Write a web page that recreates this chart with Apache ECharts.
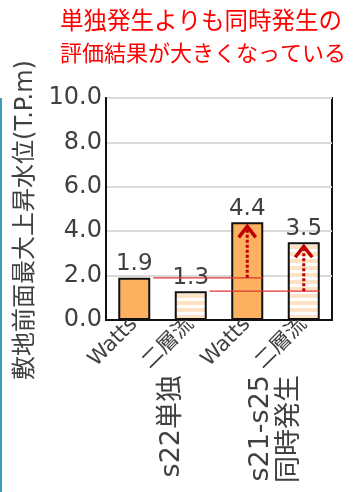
<!DOCTYPE html>
<html>
<head>
<meta charset="utf-8">
<script src="https://cdn.jsdelivr.net/npm/echarts@6/dist/echarts.min.js"></script>
<style>
  html, body { margin: 0; padding: 0; background: #ffffff; }
  #chart { width: 354px; height: 492px; }
</style>
</head>
<body>
<div id="chart"></div>
<script>
// Bars: simulation method per case
const categories = ['Watts', '二層流', 'Watts', '二層流'];
// Case groups shown under the method labels
const groupLabels = ['s22単独', 's21-s25\n同時発生'];
// Maximum rise in water level in front of the site (T.P.m)
const values = [1.9, 1.3, 4.4, 3.5];
// Reference lines: [from bar, to bar, level]
const connectors = [[0, 2, 1.9], [1, 3, 1.3]];
// Increase arrows: [bar, from level, to level]
const arrows = [[2, 1.9, 4.4], [3, 1.3, 3.5]];
// Value axis range
const yMin = 0, yMax = 10, yStep = 2;

const FONT = "'DejaVu Sans', 'Noto Sans CJK JP', sans-serif";
const TEXT = '#404040';
const BAR_W = 32;

// horizontal stripe fill for the two-layer-flow bars
const stripe = document.createElement('canvas');
stripe.width = 8; stripe.height = 7;
const g = stripe.getContext('2d');
g.fillStyle = '#ffffff'; g.fillRect(0, 0, 8, 7);
g.fillStyle = '#fde2c4'; g.fillRect(0, 0, 8, 4);

const chart = echarts.init(document.getElementById('chart'), null, { renderer: 'canvas' });

chart.setOption({
  backgroundColor: '#ffffff',
  animation: false,
  title: {
    left: 60, top: 6, padding: 0,
    text: '{a|単独発生よりも同時発生の}\n{b|評価結果が大きくなっている}',
    textStyle: {
      fontWeight: 'normal',
      rich: {
        a: { fontSize: 23.5, lineHeight: 33, color: '#ff0000', fontFamily: FONT, fontWeight: 'normal' },
        b: { fontSize: 22, lineHeight: 33, color: '#ff0000', fontFamily: FONT, fontWeight: 'normal' }
      }
    }
  },
  graphic: [{
    type: 'rect', left: 0, top: 98,
    shape: { width: 2, height: 394 },
    style: { fill: '#3f9db4' }
  }],
  grid: {
    left: 106, right: 22, top: 98, bottom: 172,
    show: true, borderColor: '#111111', borderWidth: 2,
    outerBoundsMode: 'none'
  },
  xAxis: [{
    type: 'category',
    data: categories,
    axisLine: { lineStyle: { color: '#111111', width: 2 } },
    axisTick: { show: false },
    axisLabel: {
      interval: 0, rotate: 45, margin: 1,
      padding: [24, 0, 0, 0],
      fontSize: 21, color: TEXT, fontFamily: FONT
    }
  }, {
    type: 'category',
    position: 'bottom',
    data: groupLabels,
    axisLine: { show: false },
    axisTick: { show: false },
    splitLine: { show: false },
    axisLabel: {
      interval: 0, rotate: 90, margin: 55,
      fontSize: 27, lineHeight: 29, color: TEXT, fontFamily: FONT,
      formatter: (v, i) => i === 0 ? '{e| }\n' + v : v,
      rich: { e: { fontSize: 1, lineHeight: 19 } }
    }
  }],
  yAxis: {
    type: 'value',
    min: yMin, max: yMax, interval: yStep,
    name: '敷地前面最大上昇水位(T.P.m)',
    nameLocation: 'middle', nameRotate: 90, nameGap: 60,
    nameTextStyle: { fontSize: 24, color: TEXT, fontFamily: FONT, padding: [0, 22, 0, 0] },
    axisLine: { show: true, lineStyle: { color: '#111111', width: 2 } },
    axisTick: { show: false },
    axisLabel: {
      margin: 4, fontSize: 24, color: TEXT, fontFamily: FONT,
      formatter: v => v.toFixed(1)
    },
    splitLine: { lineStyle: { color: '#d9d9d9', width: 2 } }
  },
  series: [{
    type: 'bar',
    barWidth: BAR_W,
    data: values.map((v, i) => ({
      value: v,
      itemStyle: {
        color: categories[i] === '二層流' ? { image: stripe, repeat: 'repeat' } : '#fbb160'
      }
    })),
    itemStyle: { borderColor: '#111111', borderWidth: 2 },
    label: {
      show: true, position: 'top', distance: 2,
      fontSize: 23, color: TEXT, fontFamily: FONT,
      formatter: p => p.value.toFixed(1)
    },
    z: 2
  }, {
    type: 'custom',
    data: connectors,
    z: 5,
    silent: true,
    renderItem(params, api) {
      const a = api.coord([api.value(0), api.value(2)]);
      const b = api.coord([api.value(1), api.value(2)]);
      return {
        type: 'line',
        shape: { x1: a[0] + BAR_W / 2 + 3, y1: a[1], x2: b[0] + BAR_W / 2, y2: b[1] },
        style: { stroke: '#e03535', lineWidth: 1.3 }
      };
    }
  }, {
    type: 'custom',
    data: arrows,
    z: 6,
    silent: true,
    renderItem(params, api) {
      const base = api.coord([api.value(0), api.value(1)]);
      const top = api.coord([api.value(0), api.value(2)]);
      const x = base[0];
      const apex = top[1] + 4;
      return {
        type: 'group',
        children: [{
          type: 'line',
          shape: { x1: x, y1: base[1], x2: x, y2: apex + 3 },
          style: { stroke: '#c00000', lineWidth: 3, lineDash: [3, 2] }
        }, {
          type: 'polyline',
          shape: { points: [[x - 8.5, apex + 11], [x, apex], [x + 8.5, apex + 11]] },
          style: { stroke: '#c00000', lineWidth: 3.5, fill: null }
        }]
      };
    }
  }]
});
</script>
</body>
</html>
